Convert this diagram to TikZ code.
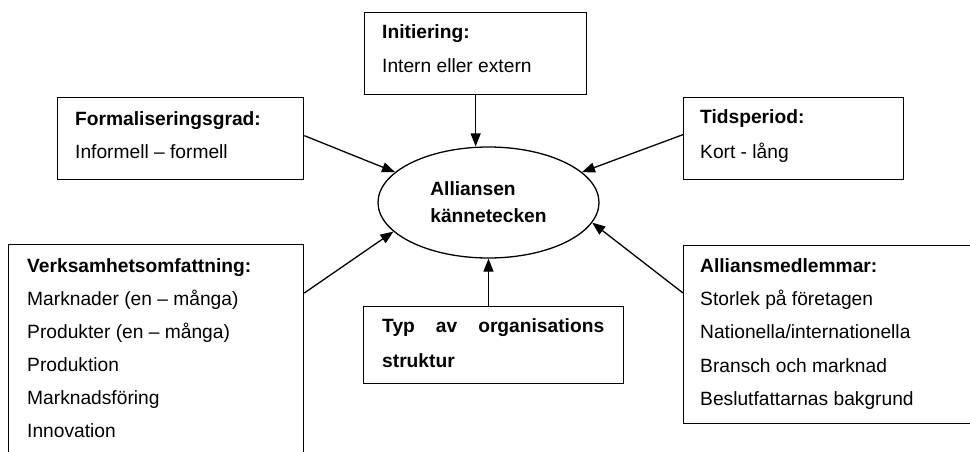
\documentclass[tikz,border=0pt]{standalone}
\usepackage{fontspec}
\setmainfont{Liberation Sans}
\usetikzlibrary{shapes.geometric,arrows.meta}
\begin{document}
\begin{tikzpicture}[x=1pt,y=-1pt,
  box/.style={draw,line width=1.3pt,rectangle,anchor=north west,inner sep=0pt},
  txt/.style={anchor=base west,inner sep=0pt,font=\fontsize{19.2}{24}\selectfont},
  ttl/.style={anchor=base west,inner sep=0pt,font=\fontsize{19.2}{24}\selectfont\bfseries},
  arr/.style={line width=1.3pt,-{Triangle[length=13pt,width=10pt]}}]
\clip (0,0) rectangle (970,452);
% boxes
\node[box,minimum width=222pt,minimum height=82pt] (init) at (364,12) {};
\node[box,minimum width=246pt,minimum height=82pt] (form) at (57,97) {};
\node[box,minimum width=220pt,minimum height=82pt] (tid) at (683,97) {};
\node[box,minimum width=295pt,minimum height=240pt] (verk) at (8,244) {};
\node[box,minimum width=310pt,minimum height=178pt] (allm) at (683,245) {};
\node[box,minimum width=260pt,minimum height=77pt] (typ) at (363,306) {};
% ellipse
\node[draw,ellipse,line width=1.3pt,minimum width=221pt,minimum height=111pt,inner sep=0pt,
  align=left,font=\fontsize{19.2}{27}\selectfont\bfseries] (ell) at (488.5,202.5) {Alliansen\\kännetecken};
% texts
\node[ttl] (t1) at (382,39) {Initiering:};
\node[txt] (t2) at (382,73) {Intern eller extern};
\node[ttl] (t3) at (75,125) {Formaliseringsgrad:};
\node[txt] (t4) at (75,158) {Informell – formell};
\node[ttl] (t5) at (700,124) {Tidsperiod:};
\node[txt] (t6) at (700,158) {Kort - lång};
\node[ttl] (t7) at (700,272) {Alliansmedlemmar:};
\node[txt] (t8) at (700,305) {Storlek på företagen};
\node[txt] (t9) at (700,338) {Nationella/internationella};
\node[txt] (t10) at (700,372) {Bransch och marknad};
\node[txt] (t11) at (700,405) {Beslutfattarnas bakgrund};
\node[ttl] (t12) at (27,272) {Verksamhetsomfattning:};
\node[txt] (t13) at (27,305) {Marknader (en – många)};
\node[txt] (t14) at (27,338) {Produkter (en – många)};
\node[txt] (t15) at (27,371) {Produktion};
\node[txt] (t16) at (27,404) {Marknadsföring};
\node[txt] (t17) at (27,437) {Innovation};
\node[ttl] (t18) at (382,332) {\hbox to 222pt{Typ\hfill av\hfill organisations}};
\node[ttl] (t19) at (382,367) {struktur};
% arrows
\draw[arr] (init.south) -- (init.south |- ell.north);
\draw[arr] (typ.north -| ell.south) -- (ell.south);
\draw[arr] ([yshift=3pt]form.east) -- (ell.162);
\draw[arr] ([yshift=4pt]tid.west) -- (ell.18);
\draw[arr] ([yshift=-49pt]verk.north east) -- (ell.197);
\draw[arr] ([yshift=-48pt]allm.north west) -- (ell.349);
\end{tikzpicture}
\end{document}
